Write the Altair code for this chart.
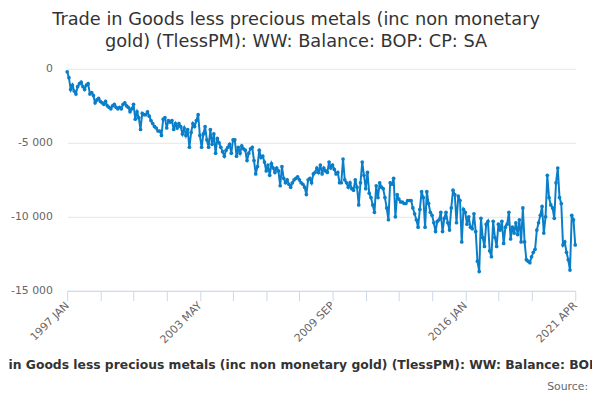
import altair as alt
import pandas as pd

# ---- data (monthly, 1997 JAN .. 2021 APR), £ million ----
v1997 = [-200, -600, -1400, -1100, -1500, -1700, -1200, -1000, -900, -1200, -1400, -1100]
v1998 = [-1000, -1700, -1600, -1800, -2300, -2100, -2000, -2200, -2300, -2400, -2200, -2500]
v1999 = [-2600, -2700, -2500, -2400, -2600, -2700, -2600, -2700, -2400, -2300, -2500, -2600]
v2000 = [-2900, -2700, -2400, -3400, -2900, -3300, -4100, -3000, -3100, -3100, -2900, -3200]
v2001 = [-3500, -3700, -3900, -4000, -4200, -4200, -4500, -3400, -3300, -4000, -3500, -3600]
v2002 = [-3500, -4100, -3700, -4000, -3700, -3900, -4400, -4000, -4500, -4100, -5300, -4300]
v2003 = [-3700, -3900, -3500, -3100, -4500, -5300, -4400, -3900, -4800, -5300, -4100, -5100]
v2004 = [-4400, -5700, -4700, -5000, -5300, -5600, -5900, -5500, -5300, -5100, -5700, -4800]
v2005 = [-4800, -5900, -5300, -5700, -5200, -5400, -5500, -6200, -5700, -5400, -5300, -6200]
v2006 = [-7100, -6600, -5500, -6000, -5900, -6300, -6900, -6500, -7200, -6400, -6700, -7000]
v2007 = [-6700, -6900, -7900, -6600, -7400, -7700, -7500, -7800, -8000, -7700, -7500, -7400]
v2008 = [-7300, -7500, -7700, -7800, -8000, -8500, -7500, -7400, -7700, -7100, -7000, -6700]
v2009 = [-7000, -6500, -7100, -6700, -6900, -7000, -6300, -6700, -6500, -6800, -7100, -7000]
v2010 = [-7700, -7700, -6100, -7500, -7700, -8000, -7700, -8100, -8200, -7500, -8000, -9200]
v2011 = [-7700, -6300, -7200, -8100, -7000, -8400, -8700, -9200, -9700, -7900, -8700, -7700]
v2012 = [-8000, -8100, -8700, -9400, -10200, -7700, -7800, -7400, -10000, -8500, -8800, -9000]
v2013 = [-9000, -9100, -9100, -8900, -8900, -8900, -9400, -9800, -10200, -10700, -9500, -8300]
v2014 = [-8700, -10700, -8300, -9100, -9700, -9900, -10400, -11000, -10300, -10200, -9700, -11000]
v2015 = [-10100, -9700, -10400, -10900, -9400, -8200, -8500, -10400, -8600, -8900, -11700, -9500]
v2016 = [-9700, -10500, -10000, -10700, -10800, -9800, -11000, -13000, -13700, -10100, -11400, -12000]
v2017 = [-10500, -10300, -12300, -12700, -10300, -11400, -12000, -10500, -10900, -10300, -11800, -10700]
v2018 = [-10500, -9700, -11500, -10700, -11100, -10400, -11200, -10200, -11700, -9400, -11700, -12900]
v2019 = [-13000, -13100, -12700, -12400, -12200, -10900, -10400, -9900, -9300, -11100, -10000, -7200]
v2020 = [-8700, -9200, -9400, -10100, -7700, -6700, -8700, -9100, -11900, -11700, -12400, -12900]
v2021 = [-13600, -9900, -10200, -11900]

month_names = ["JAN", "FEB", "MAR", "APR", "MAY", "JUN",
               "JUL", "AUG", "SEP", "OCT", "NOV", "DEC"]
first_year = 1997

y_ticks = [0, -5000, -10000, -15000]
x_label_months = ["1997 JAN", "2003 MAY", "2009 SEP", "2016 JAN", "2021 APR"]
tick_step = 19

title_lines = ["Trade in Goods less precious metals (inc non monetary",
               "gold) (TlessPM): WW: Balance: BOP: CP: SA"]
series_name = "Trade in Goods less precious metals (inc non monetary gold) (TlessPM): WW: Balance: BOP: CP: SA"
source_text = "Source:"

# ---- build table ----
values = (v1997 + v1998 + v1999 + v2000 + v2001 + v2002 + v2003 + v2004 + v2005
          + v2006 + v2007 + v2008 + v2009 + v2010 + v2011 + v2012 + v2013
          + v2014 + v2015 + v2016 + v2017 + v2018 + v2019 + v2020 + v2021)
months = [f"{first_year + i // 12} {month_names[i % 12]}" for i in range(len(values))]
df = pd.DataFrame({"i": list(range(len(values))), "month": months, "value": values})

last = len(values) - 1
tick_vals = list(range(0, last - tick_step, tick_step)) + [last]
label_idx = [months.index(m) for m in x_label_months]
x_label_expr = " : ".join(f"datum.value == {k} ? '{m}'" for k, m in zip(label_idx, x_label_months)) + " : ''"
y_label_expr = "(datum.value < 0 ? '-' : '') + replace(format(abs(datum.value), ','), ',', ' ')"

FONT = "DejaVu Sans"
LINE = "#0a7ec8"

line = alt.Chart(df).mark_line(
    color=LINE, strokeWidth=2,
    point=alt.OverlayMarkDef(color=LINE, filled=True, size=14, opacity=1),
).encode(
    x=alt.X("i:Q",
            scale=alt.Scale(domain=[0, last], nice=False, zero=False),
            axis=alt.Axis(values=tick_vals, labelExpr=x_label_expr, labelAngle=-45,
                          labelAlign="right", labelBaseline="middle", labelFlush=False,
                          labelOverlap=False, labelFont=FONT, labelFontSize=11,
                          labelColor="#666666", labelPadding=3, tickColor="#ccd6eb",
                          tickSize=10, domainColor="#ccd6eb", grid=False, title=None)),
    y=alt.Y("value:Q",
            scale=alt.Scale(domain=[-15000, 0], nice=False),
            axis=alt.Axis(values=y_ticks, labelExpr=y_label_expr, grid=True,
                          gridColor="#e6e6e6", domain=False, ticks=False,
                          labelPadding=15, labelFont=FONT, labelFontSize=11,
                          labelColor="#666666", title=None)),
    tooltip=["month:N", "value:Q"],
)


def text_layer(s, x, y, size, color, weight="normal", align="center"):
    return alt.Chart(pd.DataFrame({"t": [s]})).mark_text(
        font=FONT, fontSize=size, color=color, fontWeight=weight,
        align=align, baseline="middle",
    ).encode(x=alt.value(x), y=alt.value(y), text="t:N")


t1 = text_layer(title_lines[0], 232, -49, 18, "#333333")
t2 = text_layer(title_lines[1], 232, -27, 18, "#333333")
leg = text_layer(series_name, -103, 300, 12.5, "#333333", weight="bold", align="left")
src = text_layer(source_text, 528, 323, 11, "#666666", align="right")

chart = alt.layer(line, t1, t2, leg, src).properties(
    width=515, height=225,
    autosize=alt.AutoSizeParams(type="none"),
    padding={"left": 60, "top": 59, "right": 17, "bottom": 105},
).configure_view(stroke=None)

chart.save("out.html", embed_options={"renderer": "svg", "actions": False})
